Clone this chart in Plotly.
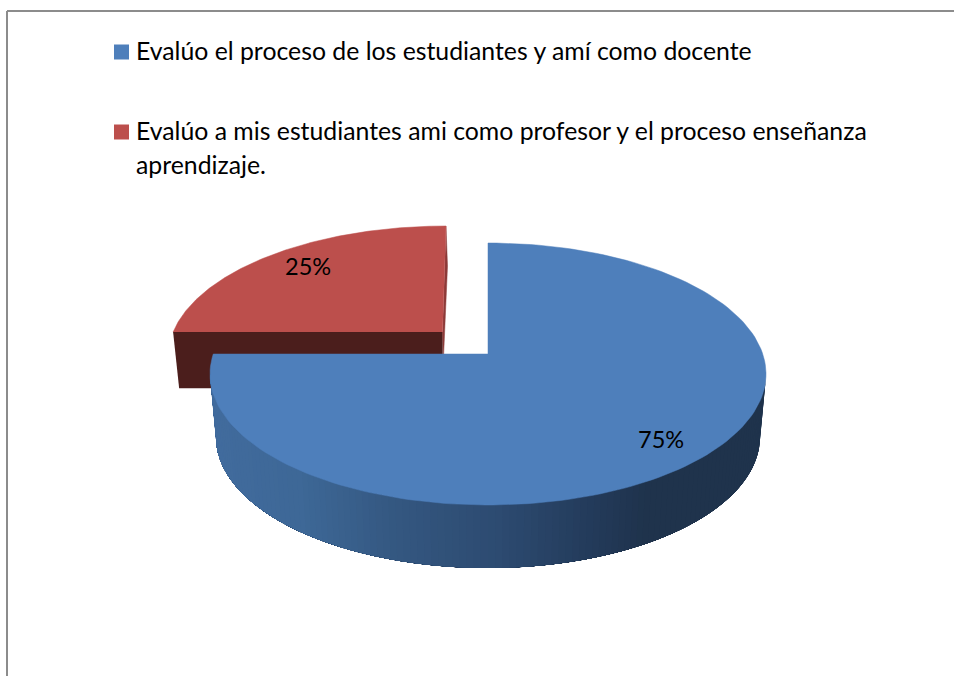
import numpy as np
import plotly.graph_objects as go

# ---- data ----
categories = ["Evalúo el proceso de los estudiantes y amí como docente",
              "Evalúo a mis estudiantes ami como profesor y el proceso enseñanza aprendizaje."]
values = [75, 25]
value_labels = ["75%", "25%"]
legend_lines = [["Evalúo el proceso de los estudiantes y amí como docente"],
                ["Evalúo a mis estudiantes ami como profesor y el proceso enseñanza", "aprendizaje."]]

# ---- style / layout ----
FONT = "Lato"
FS = 24.8
FS_LABEL = 23.5
W, H = 954, 676
TOP = ["#4E7FBB", "#BC4F4C"]
RED_BAND = "#4B1E1C"
RED_EDGE = "#8C3A38"
CX, CY, RX, RY = 488, 374, 278, 131     # top ellipse of the pie
BCY, BRX, BRY = 437, 272, 131           # bottom ellipse
VY = 354                                # apex of the blue slice
EXPL = (-42, -17)                       # explosion offset of red slice
RED_APEX = (442.5, 332)
GRAD = [(205, (66, 108, 158)), (300, (62, 104, 151)), (400, (52, 87, 128)), (500, (45, 75, 113)),
        (600, (35, 58, 89)), (650, (31, 51, 76)), (775, (31, 51, 76))]

fig = go.Figure()


def poly(xs, ys, color, width=0.5):
    fig.add_trace(go.Scatter(x=list(xs), y=list(ys), mode="lines", fill="toself", fillcolor=color,
                             line=dict(color=color, width=width), hoverinfo="skip", showlegend=False))


def arc(t0, t1, cx=CX, cy=CY, rx=RX, ry=RY, n=160):
    t = np.linspace(t0, t1, n)
    return cx + rx * np.sin(t), cy - ry * np.cos(t)


total = sum(values)
blue_sweep = 2 * np.pi * values[0] / total
tilt = np.arcsin((CY - VY) / RY)
blue_end = blue_sweep + tilt

# red slice: side band, then inner edge, then top
rc = (CX + EXPL[0], CY + EXPL[1])
tt = np.arccos((rc[1] - RED_APEX[1]) / RY)
rx_arc, ry_arc = arc(2 * np.pi - tt, 2 * np.pi, rc[0], rc[1])
poly([rx_arc[0], RED_APEX[0], RED_APEX[0], rx_arc[0] + 6],
     [RED_APEX[1], RED_APEX[1], RED_APEX[1] + 56, RED_APEX[1] + 56], RED_BAND)
poly([rc[0], rc[0] + 1.5, RED_APEX[0] + 1, RED_APEX[0]],
     [rc[1] - RY, rc[1] - RY + 40, RED_APEX[1] + 26, RED_APEX[1]], RED_EDGE)
poly(list(rx_arc) + [RED_APEX[0]], list(ry_arc) + [RED_APEX[1]], TOP[1])

# blue side wall: painted right to left, each strip reaching the left end, so no seams
gx = [g[0] for g in GRAD]
edges = np.linspace(np.pi / 2, 3 * np.pi / 2, 121)
for a in edges[:-1]:
    n = max(4, int((3 * np.pi / 2 - a) / np.pi * 60))
    tx, ty = arc(a, 3 * np.pi / 2, n=n)
    bx, by = arc(a, 3 * np.pi / 2, CX, BCY, BRX, BRY, n=n)
    mid = CX + RX * np.sin(a + np.pi / 240)
    c = [int(np.interp(mid, gx, [g[1][k] for g in GRAD])) for k in range(3)]
    poly(list(tx) + list(bx[::-1]), list(ty) + list(by[::-1]), "rgb(%d,%d,%d)" % tuple(c), width=0)

# blue top
ax, ay = arc(0, blue_end)
poly([CX] + list(ax) + [CX], [VY] + list(ay) + [VY], TOP[0])

# legend swatches
fig.add_trace(go.Scatter(x=[121.5, 121.5], y=[52, 132], mode="markers",
                         marker=dict(symbol="square", size=15, color=TOP, line=dict(width=0)),
                         hoverinfo="skip", showlegend=False))

# frame
fig.add_shape(type="line", x0=7, x1=W, y0=11, y1=11, line=dict(color="#8C8C8C", width=2))
fig.add_shape(type="line", x0=7, x1=7, y0=11, y1=H, line=dict(color="#8C8C8C", width=2))


def text(x, y, s, anchor="left", size=FS):
    fig.add_annotation(x=x, y=y, text=s, showarrow=False, xanchor=anchor, yanchor="middle",
                       font=dict(family=FONT, size=size, color="#000000"), xref="x", yref="y",
                       borderpad=0, borderwidth=0)


text(136, 50.5, legend_lines[0][0])
text(136, 130.5, legend_lines[1][0])
text(136, 164.5, legend_lines[1][1])
text(661, 439, value_labels[0], "center", FS_LABEL)
text(308, 266, value_labels[1], "center", FS_LABEL)

fig.update_xaxes(range=[0, W], visible=False, fixedrange=True)
fig.update_yaxes(range=[H, 0], visible=False, fixedrange=True)
fig.update_layout(width=W, height=H, margin=dict(l=0, r=0, t=0, b=0),
                  paper_bgcolor="white", plot_bgcolor="white", showlegend=False)
fig.write_html("out.html", config={"displayModeBar": False},
               post_script="document.body.style.margin='0';document.body.style.overflow='hidden';")
